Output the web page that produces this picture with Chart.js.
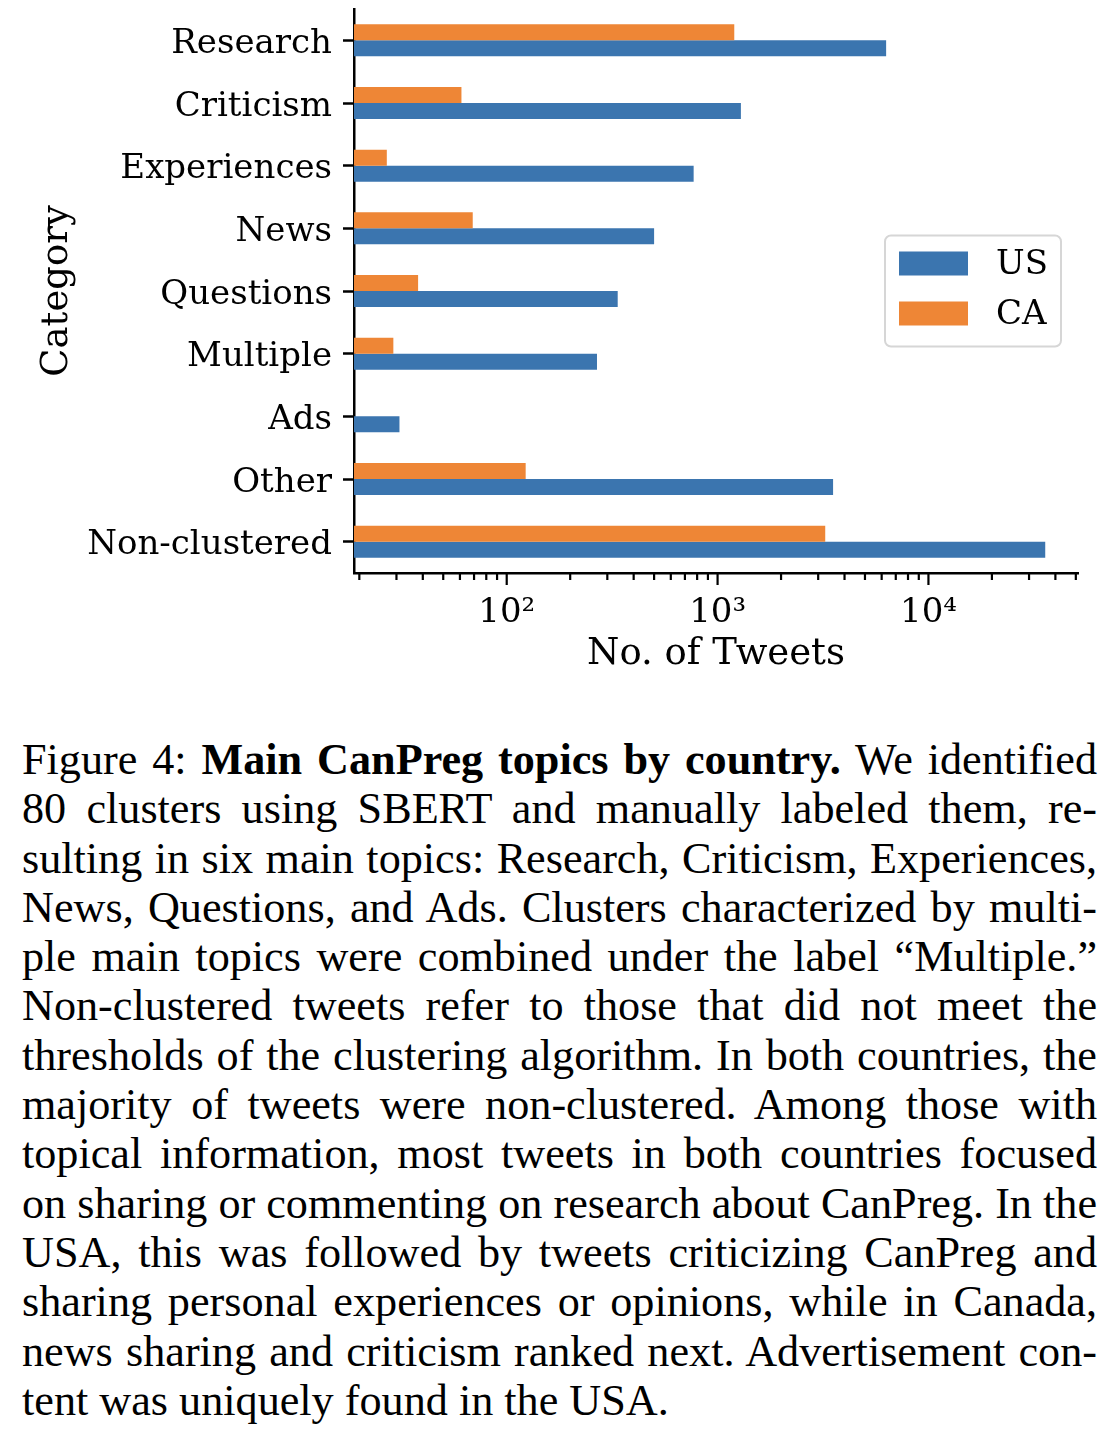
<!DOCTYPE html>
<html>
<head>
<meta charset="utf-8">
<script src="https://cdn.jsdelivr.net/npm/chart.js@4.4.0/dist/chart.umd.min.js"></script>
<style>
  body { margin: 0; background: #fff; width: 1116px; height: 1444px; overflow: hidden; }
  #wrap { position: absolute; left: 0; top: 0; width: 1116px; height: 690px; }
  #caption {
    position: absolute; left: 22px; top: 735px; width: 1075px;
    font-family: "Liberation Serif", "Times New Roman", serif;
    font-size: 44.2px; line-height: 49.3px; color: #000;
  }
  #caption .ln { text-align: justify; text-align-last: justify; white-space: nowrap; }
  #caption .ln.last { text-align: left; text-align-last: left; }
</style>
</head>
<body>
<div id="wrap"><canvas id="chart" width="1116" height="690"></canvas></div>
<div id="caption">
  <div class="ln">Figure 4: <b>Main CanPreg topics by country.</b> We identified</div>
  <div class="ln">80 clusters using SBERT and manually labeled them, re-</div>
  <div class="ln">sulting in six main topics: Research, Criticism, Experiences,</div>
  <div class="ln">News, Questions, and Ads. Clusters characterized by multi-</div>
  <div class="ln">ple main topics were combined under the label “Multiple.”</div>
  <div class="ln">Non-clustered tweets refer to those that did not meet the</div>
  <div class="ln">thresholds of the clustering algorithm. In both countries, the</div>
  <div class="ln">majority of tweets were non-clustered. Among those with</div>
  <div class="ln">topical information, most tweets in both countries focused</div>
  <div class="ln">on sharing or commenting on research about CanPreg. In the</div>
  <div class="ln">USA, this was followed by tweets criticizing CanPreg and</div>
  <div class="ln">sharing personal experiences or opinions, while in Canada,</div>
  <div class="ln">news sharing and criticism ranked next. Advertisement con-</div>
  <div class="ln last">tent was uniquely found in the USA.</div>
</div>
<script>
const categories = ["Research", "Criticism", "Experiences", "News", "Questions", "Multiple", "Ads", "Other", "Non-clustered"];
const usCounts = [6300, 1290, 770, 500, 336, 268, 31, 3530, 35800];
const caCounts = [1200, 61, 27, 69, 38, 29, null, 123, 3240];
const seriesNames = ["US", "CA"];
const seriesColors = ["#3b75af", "#ee8636"];
const majorTicks = [100, 1000, 10000];
const majorTickLabels = ["10\u00b2", "10\u00b3", "10\u2074"];
const xMin = 18.87, xMax = 51200;

// minor ticks 20..90, 200..900 etc. inside the axis range
const xTickValues = [];
for (let e = 1; e <= 4; e++) {
  for (let m = 1; m <= 9; m++) {
    const v = m * Math.pow(10, e);
    if (v >= xMin && v <= xMax) xTickValues.push(v);
  }
}

const serif = "'DejaVu Serif', serif";
const tickFont = { family: serif, size: 34 };
const titleFont = { family: serif, size: 37 };

// matplotlib-like ticks: long for decades, short for the rest
const logTicks = {
  id: "logTicks",
  afterDraw(chart) {
    const s = chart.scales.x, ctx = chart.ctx;
    ctx.save();
    ctx.strokeStyle = "#000";
    ctx.lineWidth = 2.2;
    s.ticks.forEach(t => {
      const x = s.getPixelForValue(t.value);
      const len = majorTicks.includes(t.value) ? 12 : 7;
      ctx.beginPath();
      ctx.moveTo(x, s.top);
      ctx.lineTo(x, s.top + len);
      ctx.stroke();
    });
    ctx.restore();
  }
};

// legend box in the "center right" spot, US first like the original
const boxLegend = {
  id: "boxLegend",
  afterDraw(chart) {
    const a = chart.chartArea, ctx = chart.ctx;
    const w = 176, h = 111;
    const left = a.right - 17 - w;
    const top = (a.top + a.bottom) / 2 - h / 2;
    ctx.save();
    ctx.fillStyle = "rgba(255,255,255,0.8)";
    ctx.strokeStyle = "#d6d6d6";
    ctx.lineWidth = 2;
    ctx.beginPath();
    ctx.roundRect(left, top, w, h, 6);
    ctx.fill();
    ctx.stroke();
    ctx.font = "34px " + serif;
    ctx.textBaseline = "middle";
    seriesNames.forEach((name, i) => {
      const cy = top + 28 + i * 50;
      ctx.fillStyle = seriesColors[i];
      ctx.fillRect(left + 14, cy - 12, 69, 24);
      ctx.fillStyle = "#000";
      ctx.fillText(name, left + 111, cy + 2);
    });
    ctx.restore();
  }
};

new Chart(document.getElementById("chart"), {
  type: "bar",
  data: {
    labels: categories,
    datasets: [
      { label: seriesNames[1], data: caCounts, backgroundColor: seriesColors[1] },
      { label: seriesNames[0], data: usCounts, backgroundColor: seriesColors[0] }
    ]
  },
  options: {
    indexAxis: "y",
    responsive: false,
    animation: false,
    categoryPercentage: 0.51,
    barPercentage: 1,
    layout: { padding: { top: 9, right: 38, left: 0, bottom: 0 } },
    plugins: { legend: { display: false }, tooltip: { enabled: false } },
    scales: {
      x: {
        type: "logarithmic",
        min: xMin,
        max: xMax,
        afterBuildTicks: s => { s.ticks = xTickValues.map(v => ({ value: v })); },
        afterFit: s => { s.height = 117; s.paddingLeft = 0; s.paddingRight = 0; },
        grid: { display: false },
        border: { display: true, color: "#000", width: 2.5 },
        ticks: {
          autoSkip: false,
          maxRotation: 0,
          padding: 12,
          color: "#000",
          font: tickFont,
          callback: v => {
            const i = majorTicks.indexOf(v);
            return i >= 0 ? majorTickLabels[i] : "";
          }
        },
        title: { display: true, text: "No. of Tweets", color: "#000", font: titleFont, padding: { top: 0, bottom: 13 } }
      },
      y: {
        afterFit: s => { s.width = 354; s.paddingTop = 0; s.paddingBottom = 0; },
        grid: { display: true, drawOnChartArea: false, offset: false, tickLength: 11, tickColor: "#000", tickWidth: 2.5 },
        border: { display: true, color: "#000", width: 2.5 },
        ticks: { padding: 11, labelOffset: 4, color: "#000", font: tickFont },
        title: { display: true, text: "Category", color: "#000", font: titleFont, padding: { top: 35 } }
      }
    }
  },
  plugins: [logTicks, boxLegend]
});
</script>
</body>
</html>
